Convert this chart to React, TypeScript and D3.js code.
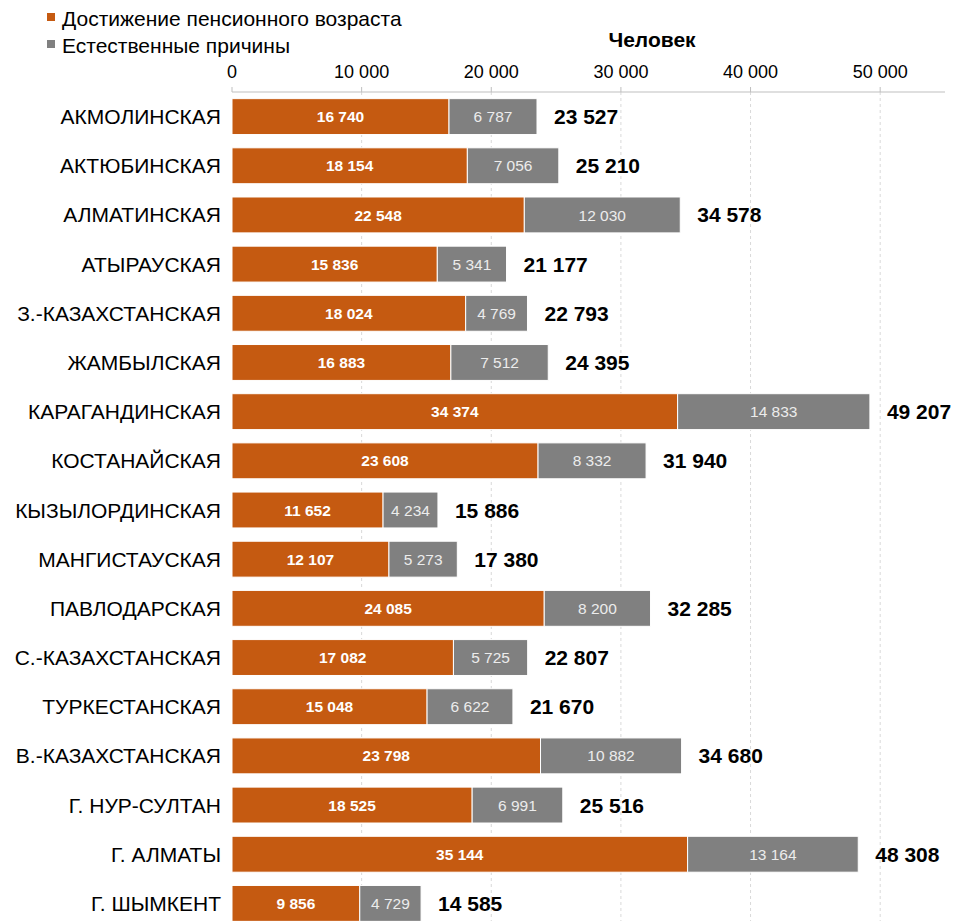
import { useEffect, useRef } from "react";
import * as d3 from "d3";

const regiones = [
  "АКМОЛИНСКАЯ",
  "АКТЮБИНСКАЯ",
  "АЛМАТИНСКАЯ",
  "АТЫРАУСКАЯ",
  "З.-КАЗАХСТАНСКАЯ",
  "ЖАМБЫЛСКАЯ",
  "КАРАГАНДИНСКАЯ",
  "КОСТАНАЙСКАЯ",
  "КЫЗЫЛОРДИНСКАЯ",
  "МАНГИСТАУСКАЯ",
  "ПАВЛОДАРСКАЯ",
  "С.-КАЗАХСТАНСКАЯ",
  "ТУРКЕСТАНСКАЯ",
  "В.-КАЗАХСТАНСКАЯ",
  "Г. НУР-СУЛТАН",
  "Г. АЛМАТЫ",
  "Г. ШЫМКЕНТ",
];

const pensionnyi = [16740, 18154, 22548, 15836, 18024, 16883, 34374, 23608, 11652, 12107, 24085, 17082, 15048, 23798, 18525, 35144, 9856];
const estestvennye = [6787, 7056, 12030, 5341, 4769, 7512, 14833, 8332, 4234, 5273, 8200, 5725, 6622, 10882, 6991, 13164, 4729];
const ticksX = [0, 10000, 20000, 30000, 40000, 50000];

const NARANJA = "#C55A11";
const GRIS = "#808080";
const FUENTE = "'Liberation Sans', Arial, sans-serif";

const fmt = (v: number) => d3.format(",")(v).replace(/,/g, " ");

export default function App() {
  const svgRef = useRef<SVGSVGElement>(null);
  const ANCHO = 955;
  const ALTO = 921;

  useEffect(() => {
    if (!svgRef.current) return;
    const svg = d3.select(svgRef.current);
    svg.selectAll("*").remove();

    const x = d3.scaleLinear().domain([0, 55000]).range([232, 945]);
    const y = d3.scaleBand().domain(regiones).range([92, 928]).paddingInner(0.27).paddingOuter(0.135);
    const ejeY = 92;

    // Rejilla
    svg
      .append("g")
      .selectAll("line")
      .data(ticksX.slice(1))
      .enter()
      .append("line")
      .attr("x1", (d) => x(d))
      .attr("x2", (d) => x(d))
      .attr("y1", ejeY)
      .attr("y2", ALTO)
      .attr("stroke", "#d9d9d9")
      .attr("stroke-dasharray", "3,3");

    // Eje superior
    const eje = svg.append("g").attr("transform", `translate(0,${ejeY})`);
    eje
      .append("line")
      .attr("x1", x(0))
      .attr("x2", 945)
      .attr("stroke", "#bfbfbf");
    eje
      .selectAll("line.tick")
      .data(ticksX)
      .enter()
      .append("line")
      .attr("class", "tick")
      .attr("x1", (d) => x(d))
      .attr("x2", (d) => x(d))
      .attr("y1", 0)
      .attr("y2", -5)
      .attr("stroke", "#bfbfbf");
    eje
      .selectAll("text")
      .data(ticksX)
      .enter()
      .append("text")
      .attr("x", (d) => x(d))
      .attr("y", -14)
      .attr("text-anchor", "middle")
      .attr("font-family", FUENTE)
      .attr("font-size", 18)
      .attr("fill", "#000")
      .text((d) => fmt(d));

    svg
      .append("text")
      .attr("x", 652)
      .attr("y", 47)
      .attr("text-anchor", "middle")
      .attr("font-family", FUENTE)
      .attr("font-size", 21)
      .attr("font-weight", 700)
      .text("Человек");

    // Leyenda
    const leyenda = [
      { texto: "Достижение пенсионного возраста", color: NARANJA },
      { texto: "Естественные причины", color: GRIS },
    ];
    const ley = svg
      .append("g")
      .selectAll("g")
      .data(leyenda)
      .enter()
      .append("g")
      .attr("transform", (_, i) => `translate(47,${26 + i * 27})`);
    ley.append("rect").attr("x", 0).attr("y", -13).attr("width", 8).attr("height", 8).attr("fill", (d) => d.color);
    ley
      .append("text")
      .attr("x", 15)
      .attr("y", 0)
      .attr("font-family", FUENTE)
      .attr("font-size", 21)
      .text((d) => d.texto);

    // Barras
    const filas = svg
      .append("g")
      .selectAll("g.fila")
      .data(regiones)
      .enter()
      .append("g")
      .attr("class", "fila")
      .attr("transform", (d) => `translate(0,${y(d)})`);
    const h = y.bandwidth();

    filas
      .append("text")
      .attr("x", 221)
      .attr("y", h / 2)
      .attr("dy", "0.36em")
      .attr("text-anchor", "end")
      .attr("font-family", FUENTE)
      .attr("font-size", 21)
      .text((d) => d);

    filas
      .append("rect")
      .attr("x", x(0))
      .attr("y", 0)
      .attr("width", (_, i) => x(pensionnyi[i]) - x(0))
      .attr("height", h)
      .attr("fill", NARANJA)
      .attr("stroke", "#fff")
      .attr("stroke-width", 1);

    filas
      .append("rect")
      .attr("x", (_, i) => x(pensionnyi[i]))
      .attr("y", 0)
      .attr("width", (_, i) => x(pensionnyi[i] + estestvennye[i]) - x(pensionnyi[i]))
      .attr("height", h)
      .attr("fill", GRIS)
      .attr("stroke", "#fff")
      .attr("stroke-width", 1);

    filas
      .append("text")
      .attr("x", (_, i) => (x(0) + x(pensionnyi[i])) / 2)
      .attr("y", h / 2)
      .attr("dy", "0.36em")
      .attr("text-anchor", "middle")
      .attr("font-family", FUENTE)
      .attr("font-size", 15.5)
      .attr("font-weight", 700)
      .attr("fill", "#fff")
      .text((_, i) => fmt(pensionnyi[i]));

    filas
      .append("text")
      .attr("x", (_, i) => (x(pensionnyi[i]) + x(pensionnyi[i] + estestvennye[i])) / 2)
      .attr("y", h / 2)
      .attr("dy", "0.36em")
      .attr("text-anchor", "middle")
      .attr("font-family", FUENTE)
      .attr("font-size", 15.5)
      .attr("fill", "#ececec")
      .text((_, i) => fmt(estestvennye[i]));

    filas
      .append("text")
      .attr("x", (_, i) => x(pensionnyi[i] + estestvennye[i]) + 17)
      .attr("y", h / 2)
      .attr("dy", "0.36em")
      .attr("font-family", FUENTE)
      .attr("font-size", 21)
      .attr("font-weight", 700)
      .attr("fill", "#000")
      .text((_, i) => fmt(pensionnyi[i] + estestvennye[i]));
  }, []);

  return (
    <svg
      ref={svgRef}
      width={ANCHO}
      height={ALTO}
      viewBox={`0 0 ${ANCHO} ${ALTO}`}
      style={{ position: "absolute", left: 0, top: 0, background: "#fff" }}
    />
  );
}
